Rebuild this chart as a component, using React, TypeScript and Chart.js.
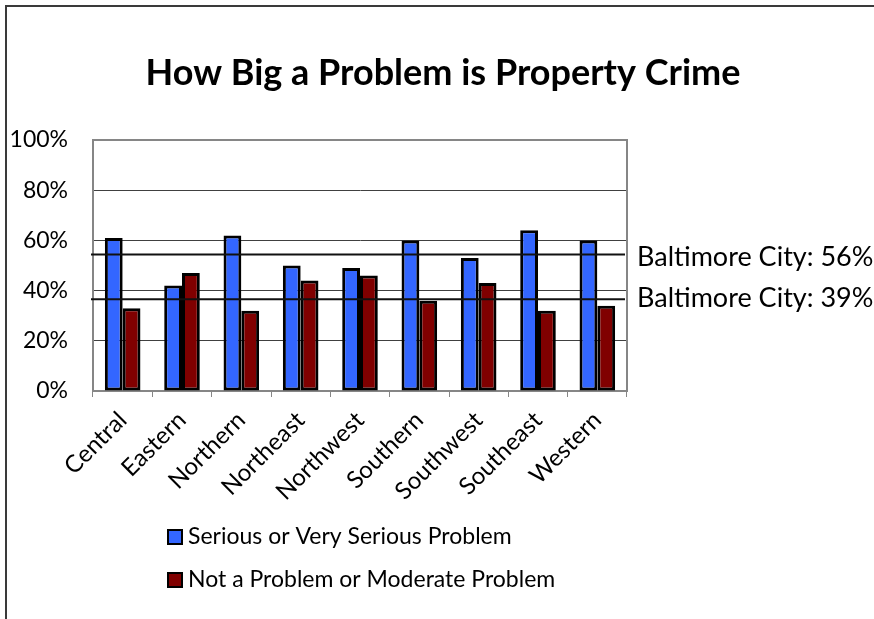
import React, { useEffect, useRef } from 'react';
import { Chart, registerables } from 'chart.js';

Chart.register(...registerables);

const categories = ['Central', 'Eastern', 'Northern', 'Northeast', 'Northwest', 'Southern', 'Southwest', 'Southeast', 'Western'];
const seriousValues = [61, 42, 62, 50, 49, 60, 53, 64, 60];
const notProblemValues = [33, 47, 32, 44, 46, 36, 43, 32, 34];
const seriesNames = ['Serious or Very Serious Problem', 'Not a Problem or Moderate Problem'];
const seriesColors = ['#3366FF', '#800000'];
const cityLineValues = [54.4, 36.6];
const cityLineLabels = ['Baltimore City: 56%', 'Baltimore City: 39%'];
const titleText = 'How Big a Problem is Property Crime';

const FONT = 'Lato, "Open Sans", sans-serif';

const overlay = {
  id: 'overlay',
  beforeDraw(chart: any) {
    const ctx = chart.ctx;
    ctx.save();
    ctx.fillStyle = '#ffffff';
    ctx.fillRect(0, 0, chart.width, chart.height);
    ctx.fillStyle = '#3a3a3a';
    ctx.fillRect(5, 5, chart.width - 5, 2);
    ctx.fillRect(5, 5, 2, chart.height - 5);
    ctx.fillStyle = '#000';
    ctx.font = `bold 36px ${FONT}`;
    ctx.textAlign = 'center';
    ctx.textBaseline = 'middle';
    ctx.fillText(titleText, 443, 73);
    ctx.restore();
  },
  beforeDatasetsDraw(chart: any) {
    const { ctx, chartArea } = chart;
    ctx.save();
    ctx.strokeStyle = '#868686';
    ctx.lineWidth = 2;
    ctx.beginPath();
    ctx.moveTo(chartArea.left, chartArea.top);
    ctx.lineTo(chartArea.right, chartArea.top);
    ctx.lineTo(chartArea.right, chartArea.bottom);
    ctx.stroke();
    ctx.restore();
  },
  afterDatasetsDraw(chart: any) {
    const { ctx, chartArea, scales } = chart;
    ctx.save();
    cityLineValues.forEach((v, i) => {
      const y = scales.y.getPixelForValue(v);
      ctx.strokeStyle = '#111';
      ctx.lineWidth = 2;
      ctx.beginPath();
      ctx.moveTo(chartArea.left - 2, y);
      ctx.lineTo(chartArea.right - 2, y);
      ctx.stroke();
      ctx.fillStyle = '#000';
      ctx.font = `27px ${FONT}`;
      ctx.textAlign = 'left';
      ctx.textBaseline = 'middle';
      ctx.fillText(cityLineLabels[i], chartArea.right + 10, y + (i === 0 ? 3 : -1));
    });
    ctx.restore();
  },
  afterDraw(chart: any) {
    const { ctx } = chart;
    ctx.save();
    const rows = [537, 580];
    chart.data.datasets.forEach((ds: any, i: number) => {
      const cy = rows[i];
      ctx.fillStyle = ds.backgroundColor;
      ctx.fillRect(168, cy - 7, 14, 14);
      ctx.strokeStyle = '#000';
      ctx.lineWidth = 2;
      ctx.strokeRect(168, cy - 7, 14, 14);
      ctx.fillStyle = '#000';
      ctx.font = `23px ${FONT}`;
      ctx.textAlign = 'left';
      ctx.textBaseline = 'middle';
      ctx.fillText(ds.label, 188, cy);
    });
    ctx.restore();
  },
};

export default function App() {
  const ref = useRef<HTMLCanvasElement>(null);
  useEffect(() => {
    if (!ref.current) return;
    const chart = new Chart(ref.current, {
      type: 'bar',
      data: {
        labels: categories,
        datasets: [
          { label: seriesNames[0], data: seriousValues, backgroundColor: seriesColors[0], borderColor: '#000', borderWidth: 3, borderSkipped: false },
          { label: seriesNames[1], data: notProblemValues, backgroundColor: seriesColors[1], borderColor: '#000', borderWidth: 3, borderSkipped: false },
        ],
      },
      options: {
        animation: false,
        responsive: true,
        maintainAspectRatio: false,
        layout: { padding: { left: 0, right: 247, top: 140, bottom: 0 } },
        datasets: { bar: { barPercentage: 1, categoryPercentage: 0.6 } },
        plugins: {
          legend: { display: false },
          tooltip: { enabled: false },
          title: { display: false },
        },
        scales: {
          x: {
            afterFit: (s: any) => { s.height = 228; },
            grid: { display: true, drawOnChartArea: false, drawTicks: true, tickLength: 6, color: '#868686', offset: true },
            border: { display: true, color: '#868686', width: 2 },
            ticks: { color: '#000', font: { family: FONT, size: 24 }, maxRotation: 45, minRotation: 45, padding: 9, autoSkip: false },
          },
          y: {
            min: 0,
            max: 100,
            afterFit: (s: any) => { s.width = 93; },
            ticks: { stepSize: 20, color: '#000', font: { family: FONT, size: 23 }, padding: 25, callback: (v: any) => v + '%' },
            grid: { color: (c: any) => (c.tick && c.tick.value === 100 ? 'rgba(0,0,0,0)' : '#404040'), lineWidth: 1, drawTicks: false },
            border: { display: true, color: '#868686', width: 2 },
          },
        },
      },
      plugins: [overlay],
    });
    return () => chart.destroy();
  }, []);
  return (
    <div style={{ position: 'absolute', left: 0, top: 0, width: 874, height: 619 }}>
      <canvas ref={ref} />
    </div>
  );
}
